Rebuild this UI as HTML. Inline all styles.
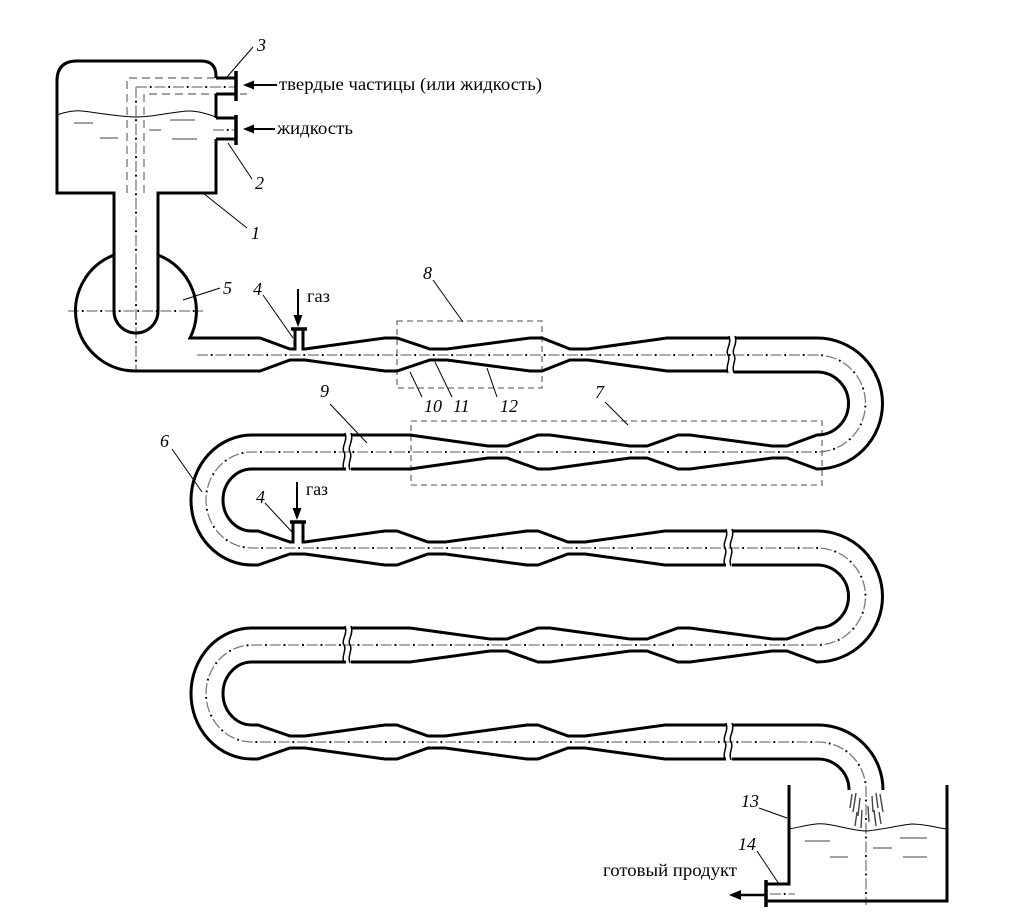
<!DOCTYPE html>
<html><head><meta charset="utf-8">
<style>
html,body{margin:0;padding:0;background:#fff;}
svg{display:block;}
text{font-family:"Liberation Serif",serif;fill:#000;}
.n{font-style:italic;font-size:18px;}
.t{font-size:18px;}
</style></head><body>
<svg width="1025" height="919" viewBox="0 0 1025 919" xmlns="http://www.w3.org/2000/svg">
<defs>
<path id="cl" d="M197,355 H817 A48.5 48.5 0 0 1 817,452 H252 A46 48 0 0 0 252,548 H817 A48.5 48.5 0 0 1 817,645 H252 A46 48.5 0 0 0 252,742 H818 A48 48 0 0 1 866,790 V905 M136,87 V372 M136,87 H236 M68,311 H203 M213,130 H236 M770,894 H795"/>
</defs>
<rect x="0" y="0" width="1025" height="919" fill="#fff"/>

<!-- centerlines -->
<use href="#cl" fill="none" stroke="#7a7a7a" stroke-width="1.3" stroke-dasharray="11 7.5"/>
<use href="#cl" fill="none" stroke="#000" stroke-width="2" stroke-dasharray="1.8 16.7" stroke-dashoffset="4.7"/>

<!-- gray dashed inner tube in tank 1 -->
<g fill="none" stroke="#808080" stroke-width="1.4" stroke-dasharray="8 5">
<path d="M127,193 V78 H216"/>
<path d="M144,193 V94 H247"/>
</g>

<!-- dashed boxes 7 and 8 -->
<g fill="none" stroke="#707070" stroke-width="1.3" stroke-dasharray="6 4">
<rect x="397" y="321" width="145" height="67"/>
<rect x="411" y="421" width="411" height="64"/>
</g>

<!-- liquid in tank 1 -->
<path d="M57,115 C65,112 75,110 82,111 C100,113 120,117 137,117 C155,117 175,111 190,111 C200,111 210,115 216,117" fill="none" stroke="#000" stroke-width="1"/>
<g stroke="#808080" stroke-width="1.5">
<line x1="74" y1="123" x2="93" y2="123"/>
<line x1="100" y1="138" x2="118" y2="138"/>
<line x1="170" y1="120" x2="195" y2="120"/>
<line x1="172" y1="139" x2="197" y2="139"/>
<line x1="149" y1="130" x2="161" y2="130"/>
</g>

<!-- main walls -->
<g fill="none" stroke="#000" stroke-width="3" stroke-linejoin="miter">
<!-- tank 1 -->
<path d="M216,78 L216,76 Q216,61 201,61 L77,61 Q57,61 57,81 L57,193 L114,193 L114,311 A22 22 0 0 0 158,311 L158,193 L216,193 L216,139"/>
<path d="M216,94 V118"/>
<path d="M216,78 H236 M216,94 H236 M216,118 H236 M216,139 H236"/>
<!-- row 1 -->
<path d="M158,255 A60 60 0 0 1 190,338 L260,338 L290,349 L295,349 L295,329"/>
<path d="M303,329 L303,349 L305,349 L385,338 L397,338 L430,349 L447,349 L530,338 L542,338 L570,349 L588,349 L667,338 L729,338"/>
<path d="M114,255 A60 60 0 0 0 136,371 L260,371 L290,360 L305,360 L385,371 L397,371 L430,360 L447,360 L530,371 L542,371 L570,360 L588,360 L667,371 L728,371"/>
<!-- bend 1-2 -->
<path d="M735,338 L817,338 A65.5 65.5 0 0 1 817,469 L787,458 L772,458 L690,469 L678,469 L647,458 L630,458 L550,469 L538,469 L507,458 L488,458 L410,469 L351,469"/>
<path d="M734,372 L817,372 A31.5 31.5 0 0 1 817,435 L787,446 L772,446 L690,435 L678,435 L647,446 L630,446 L550,435 L538,435 L507,446 L488,446 L410,435 L351,435"/>
<!-- bend 2-3 -->
<path d="M345,435 L252,435 A61 65 0 0 0 252,565 L258,565 L290,554 L305,554 L385,565 L397,565 L428,554 L445,554 L527,565 L538,565 L568,554 L585,554 L665,565 L726,565"/>
<path d="M346,469 L252,469 A29 31 0 0 0 252,531 L258,531 L290,542 L293,542 L293,522"/>
<path d="M303,522 L303,542 L305,542 L385,531 L397,531 L428,542 L445,542 L527,531 L538,531 L568,542 L585,542 L665,531 L726,531"/>
<!-- bend 3-4 -->
<path d="M732,531 L817,531 A65.5 65.5 0 0 1 817,662 L787,651 L772,651 L690,662 L678,662 L647,651 L630,651 L550,662 L538,662 L507,651 L490,651 L410,662 L351,662"/>
<path d="M732,565 L817,565 A31.5 31.5 0 0 1 817,628 L787,639 L772,639 L690,628 L678,628 L647,639 L630,639 L550,628 L538,628 L507,639 L490,639 L410,628 L351,628"/>
<!-- bend 4-5 -->
<path d="M345,628 L252,628 A61 65.5 0 0 0 252,759 L258,759 L290,748 L305,748 L385,759 L397,759 L428,748 L445,748 L527,759 L538,759 L568,748 L585,748 L665,759 L726,759"/>
<path d="M346,662 L252,662 A29 31.5 0 0 0 252,725 L258,725 L290,736 L305,736 L385,725 L397,725 L428,736 L445,736 L527,725 L538,725 L568,736 L585,736 L665,725 L726,725"/>
<!-- final bend -->
<path d="M732,725 L818,725 A65 65 0 0 1 883,790"/>
<path d="M732,759 L818,759 A31 31 0 0 1 849,790"/>
<!-- tank 13 -->
<path d="M789,785 V884 H767"/>
<path d="M767,901 H947 V785"/>
</g>

<!-- flanges -->
<g stroke="#000" stroke-width="3.5" fill="none">
<path d="M236,71 V101"/>
<path d="M236,115 V145"/>
<path d="M291,329 H307"/>
<path d="M290,522 H306"/>
<path d="M766,880 V907"/>
</g>

<!-- breaks -->
<g fill="none" stroke="#000" stroke-width="1.5">
<path d="M729,336 C732,344 725,350 728,355 C731,360 725,366 728,373"/>
<path d="M735,336 C738,344 731,350 734,355 C737,360 731,366 734,373"/>
<path d="M345,433 C348,441 341,447 344,452 C347,457 341,463 344,470"/>
<path d="M351,433 C354,441 347,447 350,452 C353,457 347,463 350,470"/>
<path d="M726,529 C729,537 722,543 725,548 C728,553 722,559 725,566"/>
<path d="M732,529 C735,537 728,543 731,548 C734,553 728,559 731,566"/>
<path d="M345,626 C348,634 341,640 344,645 C347,650 341,656 344,663"/>
<path d="M351,626 C354,634 347,640 350,645 C353,650 347,656 350,663"/>
<path d="M726,723 C729,731 722,737 725,742 C728,747 722,753 725,760"/>
<path d="M732,723 C735,731 728,737 731,742 C734,747 728,753 731,760"/>
</g>

<!-- arrows -->
<g stroke="#000" stroke-width="2" fill="none">
<line x1="252" y1="85" x2="277" y2="85"/>
<line x1="252" y1="129" x2="275" y2="129"/>
<line x1="298" y1="289" x2="298" y2="317"/>
<line x1="297" y1="482" x2="297" y2="510"/>
<line x1="739" y1="895" x2="766" y2="895" stroke-width="2.5"/>
</g>
<g fill="#000">
<polygon points="243,85 254,80.5 254,89.5"/>
<polygon points="243,129 254,124.5 254,133.5"/>
<polygon points="298,327 293.5,315 302.5,315"/>
<polygon points="297,520 292.5,508 301.5,508"/>
<polygon points="729,895 741,890 741,900"/>
</g>

<!-- tank 13 liquid -->
<path d="M789,829 C805,826 815,823 825,824 C840,826 855,831 866,831 C880,830 900,825 912,824 C925,824 938,828 947,829" fill="none" stroke="#000" stroke-width="1"/>
<g stroke="#808080" stroke-width="1.5">
<line x1="805" y1="841" x2="830" y2="841"/>
<line x1="830" y1="857" x2="848" y2="857"/>
<line x1="873" y1="848" x2="892" y2="848"/>
<line x1="900" y1="838" x2="927" y2="838"/>
<line x1="903" y1="857" x2="927" y2="857"/>
</g>

<!-- spray -->
<g stroke="#444" stroke-width="1.4">
<line x1="852" y1="794" x2="850" y2="808"/>
<line x1="856" y1="793" x2="853" y2="812"/>
<line x1="860" y1="798" x2="858" y2="816"/>
<line x1="857" y1="812" x2="855" y2="826"/>
<line x1="862" y1="810" x2="861" y2="828"/>
<line x1="872" y1="796" x2="873" y2="812"/>
<line x1="876" y1="793" x2="878" y2="808"/>
<line x1="880" y1="794" x2="883" y2="812"/>
<line x1="874" y1="810" x2="876" y2="826"/>
<line x1="879" y1="812" x2="881" y2="824"/>
<line x1="868" y1="806" x2="869" y2="822"/>
</g>

<!-- leaders -->
<g stroke="#000" stroke-width="1">
<line x1="253" y1="47" x2="227" y2="77"/>
<line x1="252" y1="179" x2="228" y2="143"/>
<line x1="247" y1="228" x2="203" y2="193"/>
<line x1="220" y1="288" x2="183" y2="300"/>
<line x1="263" y1="295" x2="293" y2="338"/>
<line x1="433" y1="280" x2="463" y2="322"/>
<line x1="422" y1="397" x2="410" y2="372"/>
<line x1="452" y1="397" x2="435" y2="362"/>
<line x1="497" y1="397" x2="487" y2="368"/>
<line x1="605" y1="402" x2="628" y2="425"/>
<line x1="330" y1="404" x2="367" y2="443"/>
<line x1="172" y1="449" x2="202" y2="492"/>
<line x1="265" y1="503" x2="292" y2="532"/>
<line x1="759" y1="808" x2="787" y2="818"/>
<line x1="757" y1="851" x2="779" y2="884"/>
</g>

<!-- labels -->
<text class="n" x="257" y="51">3</text>
<text class="n" x="255" y="189">2</text>
<text class="n" x="251" y="239">1</text>
<text class="n" x="223" y="294">5</text>
<text class="n" x="253" y="295">4</text>
<text class="n" x="423" y="279">8</text>
<text class="n" x="424" y="412">10</text>
<text class="n" x="453" y="412">11</text>
<text class="n" x="500" y="412">12</text>
<text class="n" x="595" y="398">7</text>
<text class="n" x="320" y="397">9</text>
<text class="n" x="160" y="447">6</text>
<text class="n" x="256" y="503">4</text>
<text class="n" x="741" y="807">13</text>
<text class="n" x="738" y="850">14</text>

<text class="t" x="279" y="90" textLength="263" lengthAdjust="spacingAndGlyphs">твердые частицы (или жидкость)</text>
<text class="t" x="277" y="134" textLength="76" lengthAdjust="spacingAndGlyphs">жидкость</text>
<text class="t" x="307" y="302" textLength="23" lengthAdjust="spacingAndGlyphs">газ</text>
<text class="t" x="306" y="495" textLength="22" lengthAdjust="spacingAndGlyphs">газ</text>
<text class="t" x="603" y="876" textLength="134" lengthAdjust="spacingAndGlyphs">готовый продукт</text>
</svg>
</body></html>
